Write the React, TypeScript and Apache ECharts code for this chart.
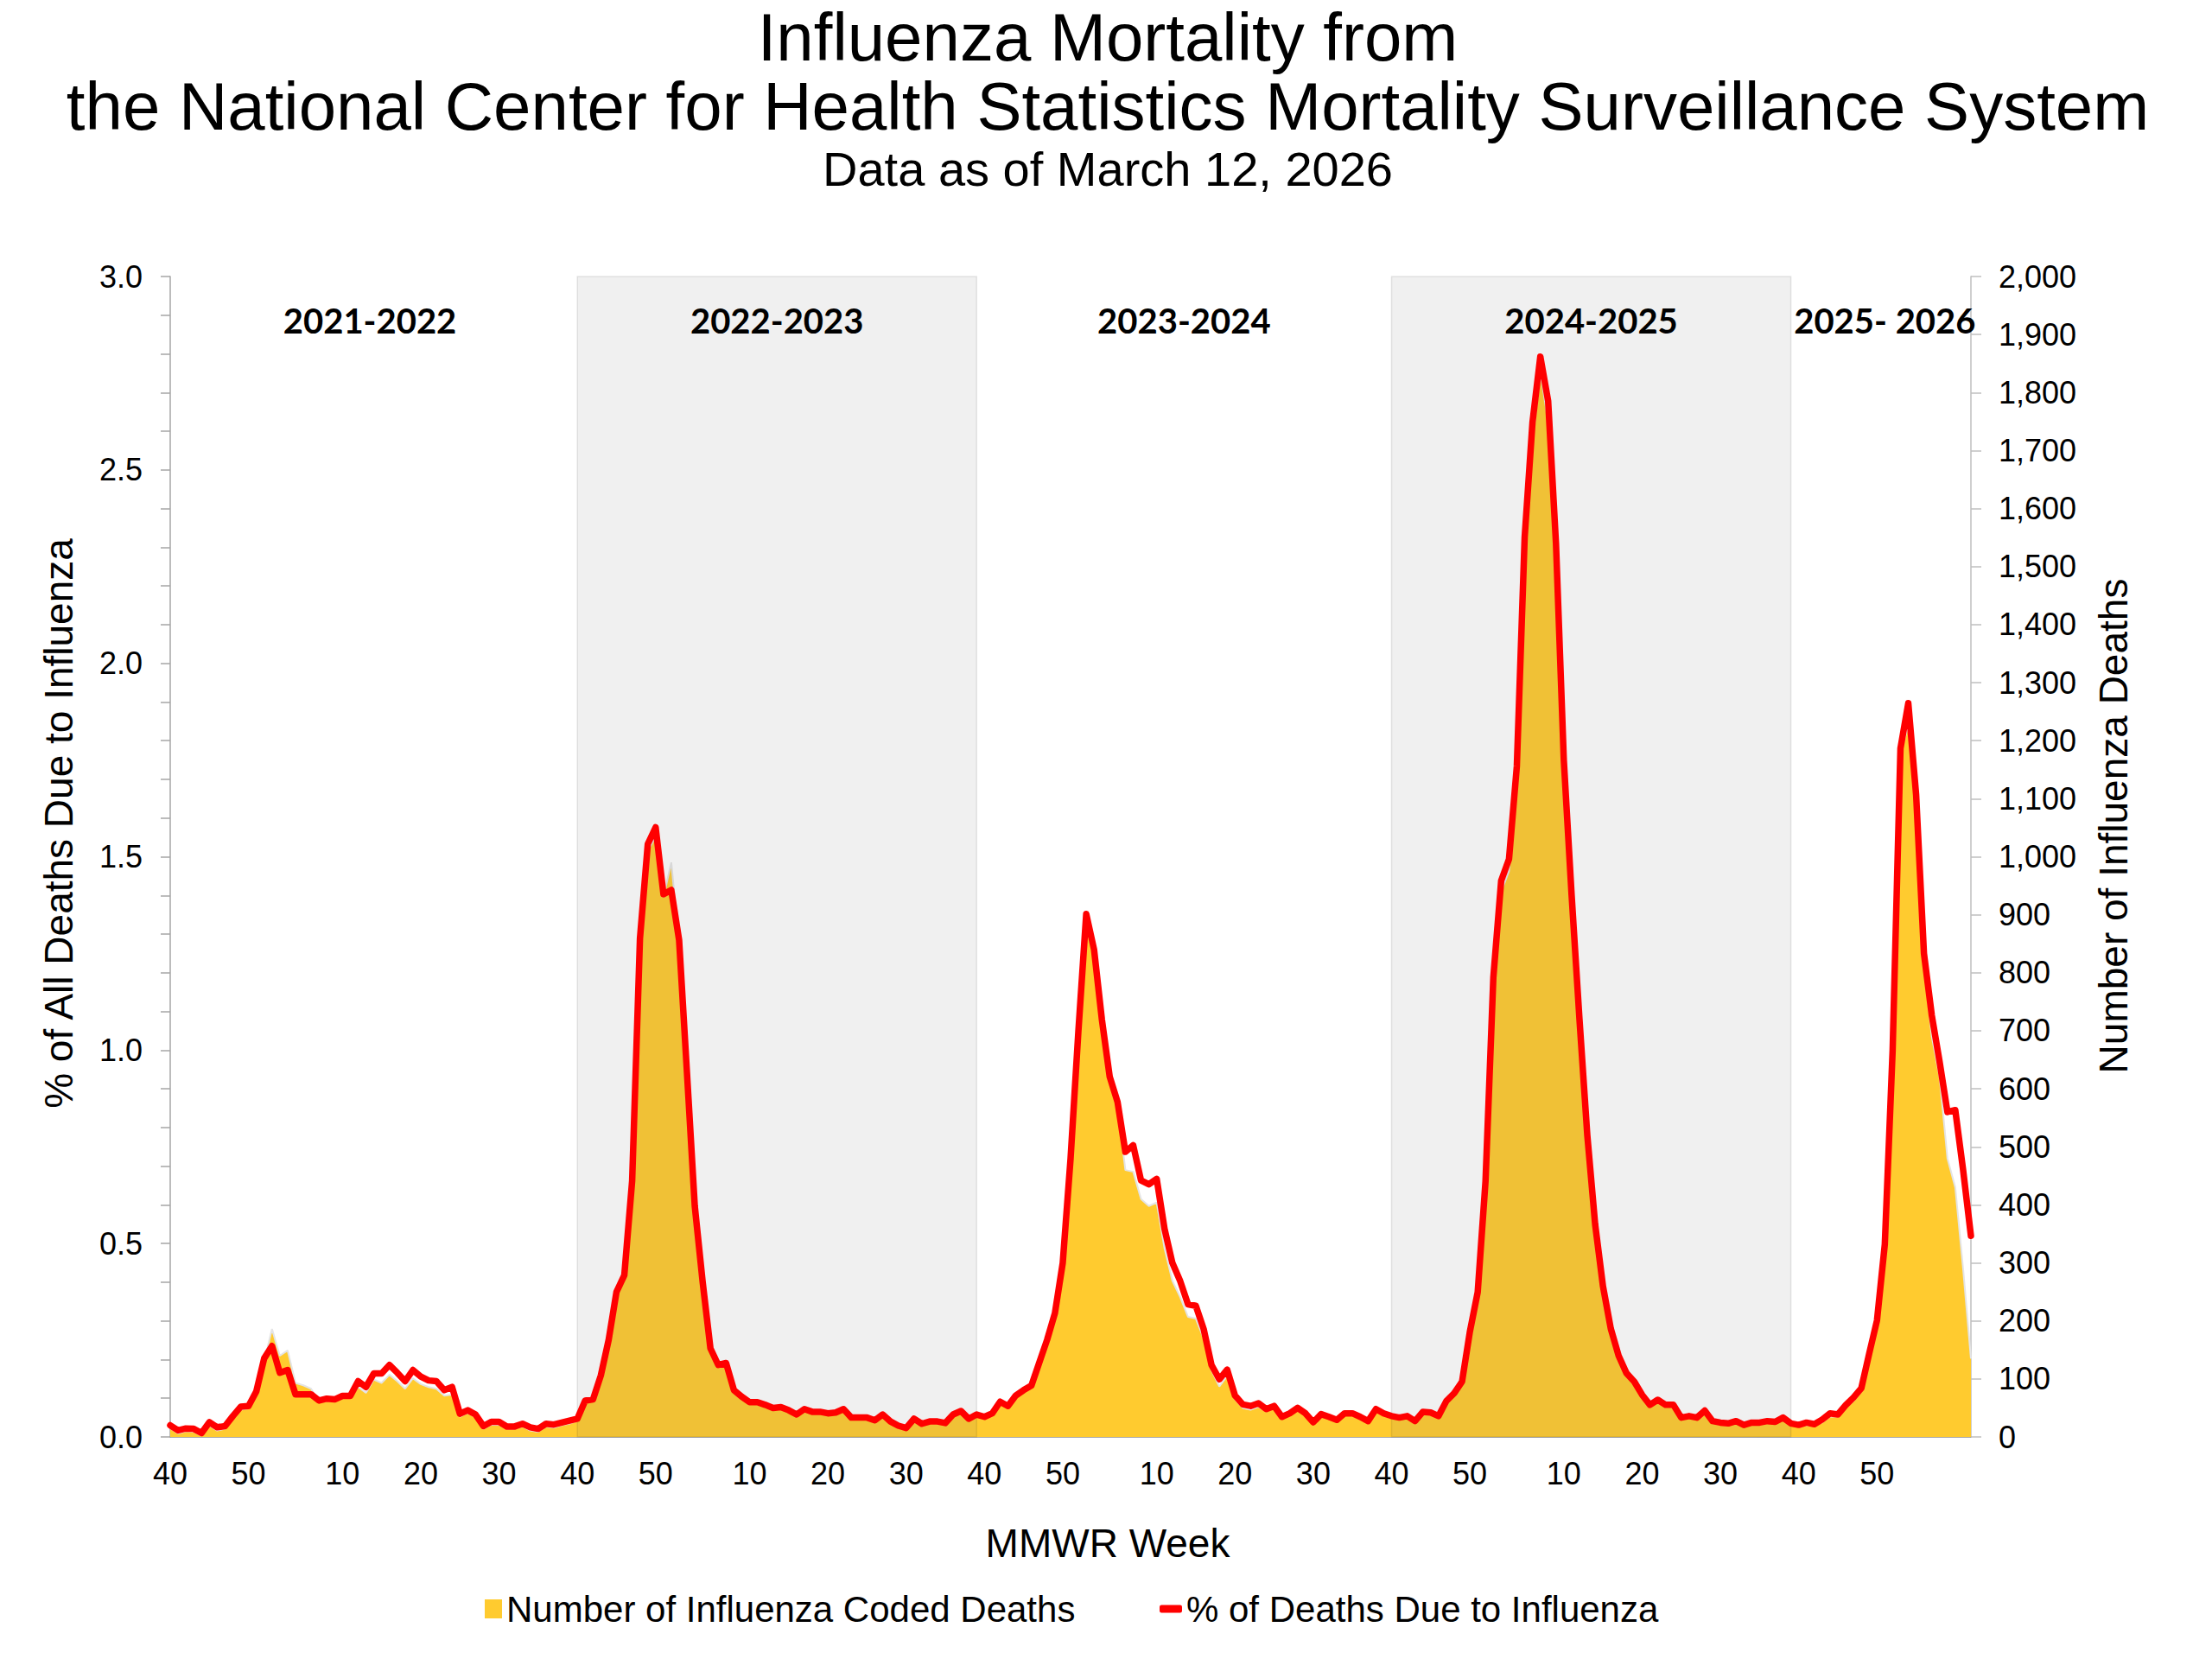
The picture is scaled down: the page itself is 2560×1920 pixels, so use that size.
import { useEffect, useRef } from "react";
import * as echarts from "echarts";

// seasons shown on the chart (MMWR week 40 to week 39)
const SEASON_LABELS = ["2021-2022", "2022-2023", "2023-2024", "2024-2025", "2025- 2026"];
const SEASON_START_YEARS = [2021, 2022, 2023, 2024, 2025];
const MMWR_WEEKS_IN_START_YEAR = [52, 52, 52, 52, 53];
const SHADED_SEASONS = [1, 3];

// % of all deaths due to influenza, one value per week from 2021 week 40
const PCT_INFLUENZA = [
  // 2021-2022
  0.030, 0.017, 0.022, 0.021, 0.010, 0.038, 0.025, 0.028, 0.054, 0.078,
  0.080, 0.118, 0.203, 0.235, 0.166, 0.173, 0.110, 0.110, 0.110, 0.094,
  0.099, 0.097, 0.106, 0.106, 0.144, 0.129, 0.164, 0.164, 0.186, 0.166,
  0.144, 0.173, 0.156, 0.146, 0.144, 0.121, 0.129, 0.060, 0.069, 0.058,
  0.028, 0.039, 0.039, 0.027, 0.027, 0.034, 0.025, 0.021, 0.034, 0.032,
  0.037, 0.042,
  // 2022-2023
  0.047, 0.094, 0.097, 0.159, 0.251, 0.375, 0.418, 0.662, 1.289, 1.533,
  1.576, 1.403, 1.414, 1.284, 0.943, 0.597, 0.402, 0.229, 0.186, 0.191,
  0.121, 0.104, 0.090, 0.090, 0.083, 0.075, 0.077, 0.069, 0.058, 0.072,
  0.065, 0.065, 0.061, 0.063, 0.072, 0.050, 0.050, 0.050, 0.043, 0.058,
  0.040, 0.029, 0.023, 0.047, 0.034, 0.040, 0.040, 0.036, 0.058, 0.067,
  0.047, 0.058,
  // 2023-2024
  0.052, 0.061, 0.091, 0.080, 0.107, 0.121, 0.133, 0.192, 0.251, 0.320,
  0.450, 0.720, 1.050, 1.352, 1.260, 1.079, 0.931, 0.866, 0.737, 0.754,
  0.663, 0.653, 0.667, 0.538, 0.450, 0.403, 0.343, 0.339, 0.279, 0.186,
  0.149, 0.174, 0.107, 0.084, 0.080, 0.087, 0.072, 0.080, 0.052, 0.061,
  0.075, 0.061, 0.038, 0.059, 0.052, 0.044, 0.061, 0.061, 0.052, 0.041,
  0.072, 0.061,
  // 2024-2025
  0.054, 0.050, 0.054, 0.041, 0.065, 0.063, 0.054, 0.093, 0.113, 0.143,
  0.272, 0.374, 0.661, 1.188, 1.438, 1.494, 1.734, 2.326, 2.623, 2.793,
  2.678, 2.310, 1.750, 1.400, 1.080, 0.780, 0.550, 0.390, 0.280, 0.210,
  0.165, 0.143, 0.109, 0.083, 0.096, 0.083, 0.083, 0.050, 0.054, 0.050,
  0.068, 0.041, 0.037, 0.035, 0.041, 0.031, 0.037, 0.037, 0.041, 0.039,
  0.050, 0.035,
  // 2025-2026
  0.031, 0.037, 0.033, 0.045, 0.061, 0.058, 0.082, 0.102, 0.126, 0.215,
  0.301, 0.498, 1.000, 1.780, 1.897, 1.660, 1.250, 1.090, 0.970, 0.840,
  0.845, 0.690, 0.520,
];

// number of influenza coded deaths, same weeks
const INFLUENZA_DEATHS = [
  // 2021-2022
  15, 6, 10, 9, 2, 20, 11, 14, 31, 47,
  49, 73, 130, 186, 140, 149, 93, 89, 83, 60,
  62, 62, 68, 68, 86, 76, 99, 93, 107, 96,
  83, 101, 91, 86, 83, 71, 73, 35, 42, 34,
  14, 21, 21, 14, 14, 18, 11, 9, 18, 16,
  20, 23,
  // 2022-2023
  28, 60, 62, 103, 163, 245, 272, 435, 850, 1010,
  1035, 930, 990, 850, 625, 395, 265, 150, 122, 125,
  80, 68, 59, 59, 54, 49, 50, 45, 38, 47,
  42, 42, 40, 41, 47, 32, 32, 32, 28, 38,
  26, 19, 15, 30, 22, 26, 26, 23, 38, 44,
  30, 38,
  // 2023-2024
  33, 40, 58, 52, 70, 79, 87, 126, 165, 211,
  296, 470, 690, 880, 830, 713, 614, 571, 460, 457,
  410, 398, 404, 325, 269, 241, 207, 204, 170, 115,
  87, 105, 65, 50, 47, 52, 44, 50, 32, 38,
  47, 38, 23, 37, 32, 27, 38, 38, 32, 25,
  45, 38,
  // 2024-2025
  35, 33, 35, 27, 42, 41, 35, 60, 73, 93,
  175, 243, 430, 775, 940, 975, 1135, 1520, 1715, 1835,
  1750, 1510, 1145, 915, 705, 510, 360, 255, 183, 137,
  108, 93, 70, 53, 62, 53, 53, 32, 35, 32,
  44, 26, 24, 22, 26, 20, 24, 24, 26, 25,
  32, 22,
  // 2025-2026
  18, 20, 20, 25, 35, 35, 50, 62, 78, 135,
  190, 320, 650, 1180, 1225, 1090, 820, 690, 620, 480,
  430, 290, 135,
];

const PCT_AXIS = { min: 0, max: 3, interval: 0.5 };
const DEATHS_AXIS = { min: 0, max: 2000, interval: 100 };
const WEEK_LABEL_STEP = 10;

const TITLE_LINES = [
  "Influenza Mortality from",
  "the National Center for Health Statistics Mortality Surveillance System",
];
const SUBTITLE = "Data as of March 12, 2026";

const FONT = "'Liberation Sans', Arial, sans-serif";
const YELLOW = "#FFCB2F";
const RED = "#FF0000";

function buildWeeks() {
  const keys: string[] = [];
  const ranges: [number, number][] = [];
  SEASON_START_YEARS.forEach((year, s) => {
    const start = keys.length;
    for (let w = 40; w <= MMWR_WEEKS_IN_START_YEAR[s]; w++) keys.push(`${year}-W${w}`);
    for (let w = 1; w <= 39; w++) keys.push(`${year + 1}-W${w}`);
    ranges.push([start, keys.length - 1]);
  });
  const n = PCT_INFLUENZA.length;
  return {
    keys: keys.slice(0, n),
    ranges: ranges.map(([a, b]) => [a, Math.min(b, n - 1)] as [number, number]),
  };
}

const weekOf = (key: string) => key.split("-W")[1];

export default function App() {
  const chartRef = useRef<HTMLDivElement>(null);

  useEffect(() => {
    if (!chartRef.current) return;
    const chart = echarts.init(chartRef.current, undefined, { renderer: "svg" });
    const { keys, ranges } = buildWeeks();

    chart.setOption({
      animation: false,
      backgroundColor: "#fff",
      grid: { left: 197, right: 279, top: 320, bottom: 257 },
      legend: [
        {
          data: [
            {
              name: "Number of Influenza Coded Deaths",
              icon: "rect",
              itemStyle: { color: YELLOW, borderWidth: 0 },
            },
          ],
          left: 561,
          top: 1841,
          padding: 0,
          itemWidth: 20,
          itemHeight: 22,
          selectedMode: false,
          textStyle: { fontSize: 42, fontFamily: FONT, color: "#000" },
        },
        {
          data: [
            {
              name: "% of Deaths Due to Influenza",
              icon: "roundRect",
              itemStyle: { color: RED, borderWidth: 0 },
            },
          ],
          left: 1342,
          top: 1841,
          padding: 0,
          itemWidth: 26,
          itemHeight: 9,
          selectedMode: false,
          textStyle: { fontSize: 42, fontFamily: FONT, color: "#000" },
        },
      ],
      xAxis: {
        type: "category",
        data: keys,
        boundaryGap: false,
        axisLine: { show: true, lineStyle: { color: "#8c8c8c", width: 1.5 } },
        axisTick: { show: false },
        axisLabel: {
          interval: (_i: number, value: string) => Number(weekOf(value)) % WEEK_LABEL_STEP === 0,
          formatter: (value: string) => weekOf(value),
          fontSize: 36,
          fontFamily: FONT,
          color: "#000",
          margin: 24,
        },
        splitLine: { show: false },
      },
      yAxis: [
        {
          type: "value",
          position: "left",
          ...PCT_AXIS,
          axisLine: { show: true, lineStyle: { color: "#a6a6a6", width: 1.5 } },
          axisTick: { show: true, inside: false, length: 11, lineStyle: { color: "#a6a6a6", width: 1.5 } },
          minorTick: { show: true, splitNumber: 5, length: 11, lineStyle: { color: "#a6a6a6", width: 1.5 } },
          axisLabel: {
            formatter: (v: number) => v.toFixed(1),
            fontSize: 36,
            fontFamily: FONT,
            color: "#000",
            margin: 32,
          },
          splitLine: { show: false },
        },
        {
          type: "value",
          position: "right",
          ...DEATHS_AXIS,
          axisLine: { show: true, lineStyle: { color: "#bfbfbf", width: 1.5 } },
          axisTick: { show: true, inside: false, length: 12, lineStyle: { color: "#bfbfbf", width: 1.5 } },
          axisLabel: {
            formatter: (v: number) => v.toLocaleString("en-US"),
            fontSize: 36,
            fontFamily: FONT,
            color: "#000",
            margin: 32,
          },
          splitLine: { show: false },
        },
      ],
      series: [
        {
          name: "Number of Influenza Coded Deaths",
          type: "line",
          yAxisIndex: 1,
          data: INFLUENZA_DEATHS,
          symbol: "none",
          showSymbol: false,
          z: 2,
          lineStyle: { color: "#e4e4e4", width: 2 },
          itemStyle: { color: YELLOW },
          areaStyle: { color: YELLOW, opacity: 1 },
          markArea: {
            silent: true,
            z: 3,
            label: {
              show: true,
              position: "insideTop",
              distance: 32,
              color: "#000",
              fontFamily: "Lato, 'Liberation Sans', sans-serif",
              fontWeight: "bold",
              fontSize: 40,
            },
            data: ranges.map(([a, b], s) => {
              const shaded = SHADED_SEASONS.includes(s);
              return [
                {
                  name: SEASON_LABELS[s],
                  xAxis: keys[a],
                  itemStyle: {
                    color: shaded ? "rgba(120,120,120,0.11)" : "rgba(0,0,0,0)",
                    borderColor: shaded ? "rgba(0,0,0,0.09)" : "rgba(0,0,0,0)",
                    borderWidth: 1.5,
                  },
                },
                { xAxis: keys[b] },
              ];
            }),
          },
        },
        {
          name: "% of Deaths Due to Influenza",
          type: "line",
          yAxisIndex: 0,
          data: PCT_INFLUENZA,
          symbol: "none",
          showSymbol: false,
          z: 5,
          lineStyle: { color: RED, width: 7.5, join: "round", cap: "round" },
          itemStyle: { color: RED },
        },
      ],
      graphic: [
        {
          type: "text",
          x: 1282,
          y: 3,
          style: {
            text: [...TITLE_LINES.map((t) => `{main|${t}}`), `{sub|${SUBTITLE}}`].join("\n"),
            fontFamily: FONT,
            fill: "#000",
            align: "center",
            verticalAlign: "top",
            rich: {
              main: { fontSize: 78, lineHeight: 80, fontFamily: FONT, fill: "#000", align: "center" },
              sub: { fontSize: 56, lineHeight: 64, fontFamily: FONT, fill: "#000", align: "center" },
            },
          },
        },
        {
          type: "text",
          x: 68,
          y: 953,
          rotation: Math.PI / 2,
          style: { text: "% of All Deaths Due to Influenza", fontSize: 46, fontFamily: FONT, fill: "#000", align: "center", verticalAlign: "middle" },
        },
        {
          type: "text",
          x: 2446,
          y: 956,
          rotation: Math.PI / 2,
          style: { text: "Number of Influenza Deaths", fontSize: 46, fontFamily: FONT, fill: "#000", align: "center", verticalAlign: "middle" },
        },
        {
          type: "text",
          x: 1282,
          y: 1786,
          style: { text: "MMWR Week", fontSize: 46, fontFamily: FONT, fill: "#000", align: "center", verticalAlign: "middle" },
        },
      ],
    });

    return () => chart.dispose();
  }, []);

  return (
    <div
      ref={chartRef}
      style={{ position: "absolute", left: 0, top: 0, width: 2560, height: 1920 }}
    />
  );
}
